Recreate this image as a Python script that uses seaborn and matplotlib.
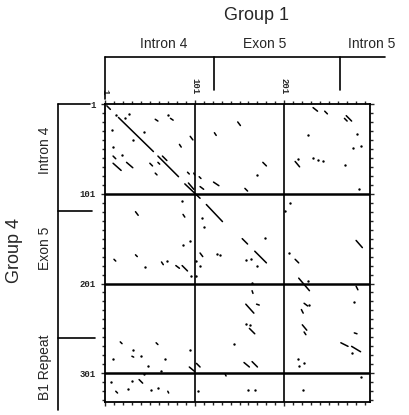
import matplotlib
matplotlib.use("Agg")
import matplotlib.pyplot as plt
import seaborn as sns
import pandas as pd
from matplotlib.lines import Line2D

sns.set_style("white")
plt.rcParams['font.family'] = ['Liberation Sans', 'DejaVu Sans']

# ---- data (sequence positions) ----
seg_x0 = [3, 16, 60, 90, 114, 57, 74, 10, 10, 25, 51, 60, 57, 65, 84, 96, 93, 100, 106, 94, 107, 122, 123, 149,
          233, 246, 270, 268, 177, 213, 157, 35, 88, 11, 35, 64, 80, 87, 107, 154, 168, 213, 217, 165, 281, 281,
          18, 58, 31, 95, 103, 135, 39, 13, 71, 158, 170, 162, 156, 165, 223, 220, 221, 223, 279, 264, 276]
seg_y0 = [3, 16, 59, 90, 113, 18, 17, 59, 67, 66, 67, 66, 78, 59, 46, 37, 77, 78, 82, 89, 93, 88, 33, 21,
          5, 9, 14, 17, 66, 65, 95, 121, 124, 174, 169, 177, 181, 181, 167, 151, 165, 174, 195, 209, 153, 204,
          266, 267, 282, 294, 290, 302, 308, 321, 321, 224, 224, 251, 289, 288, 223, 230, 247, 255, 256, 267, 271]
seg_x1 = [7, 55, 83, 107, 132, 60, 77, 13, 19, 32, 54, 62, 59, 70, 86, 99, 95, 101, 108, 100, 111, 128, 125, 152,
          238, 249, 276, 271, 181, 218, 160, 38, 90, 13, 37, 66, 84, 93, 110, 160, 181, 217, 229, 166, 288, 283,
          20, 60, 33, 101, 107, 136, 43, 15, 72, 167, 173, 168, 162, 171, 227, 222, 226, 225, 282, 272, 286]
seg_y1 = [7, 54, 82, 106, 132, 20, 19, 62, 75, 72, 70, 68, 80, 64, 49, 41, 79, 80, 84, 96, 96, 92, 36, 25,
          9, 12, 20, 20, 70, 71, 98, 125, 127, 176, 171, 180, 184, 187, 171, 157, 178, 178, 209, 212, 161, 208,
          268, 269, 283, 299, 294, 304, 312, 323, 323, 234, 225, 257, 294, 294, 226, 234, 253, 258, 257, 271, 277]

dot_x = [13, 23, 28, 71, 9, 45, 32, 10, 20, 227, 282, 278, 287, 233, 239, 244, 269, 171, 216, 284, 87, 109, 111,
         96, 88, 70, 103, 107, 103, 126, 129, 46, 97, 164, 158, 171, 179, 206, 165, 202, 227, 207, 32, 41, 68,
         49, 10, 64, 96, 145, 27, 52, 8, 31, 60, 45, 105, 158, 163, 160, 168, 216, 217, 223, 222, 229, 276, 279, 286]
dot_y = [13, 17, 12, 13, 30, 32, 41, 49, 58, 36, 34, 50, 48, 61, 63, 64, 69, 80, 62, 96, 109, 128, 138,
         154, 158, 176, 176, 182, 193, 168, 169, 183, 193, 174, 175, 182, 150, 167, 200, 120, 198, 111, 275, 282, 285,
         293, 285, 299, 275, 268, 319, 320, 311, 310, 317, 302, 321, 246, 247, 320, 320, 285, 293, 289, 320, 225, 278, 222, 305]

x_bounds = [101, 201]
y_bounds = [101, 201, 301]
x_ticks = [1, 101, 201]
y_ticks = [1, 101, 201, 301]
x_max, y_max = 296.5, 333

top_title = "Group 1"
left_title = "Group 4"
top_regions = ["Intron 4", "Exon 5", "Intron 5"]
left_regions = ["Intron 4", "Exon 5", "B1 Repeat"]

# ---- figure ----
W, H = 410, 415
fig = plt.figure(figsize=(W / 100, H / 100), dpi=100)
ax = fig.add_axes([105 / W, 1 - 402 / H, 265 / W, 298 / H])

rows = []
for i, (a, b, c, d) in enumerate(zip(seg_x0, seg_y0, seg_x1, seg_y1)):
    rows.append({"seg": i, "x": a, "y": b})
    rows.append({"seg": i, "x": c, "y": d})
seg_df = pd.DataFrame(rows)
dot_df = pd.DataFrame({"x": dot_x, "y": dot_y})

sns.lineplot(data=seg_df, x="x", y="y", units="seg", estimator=None, sort=False,
             color="black", lw=1.1, ax=ax, legend=False)
sns.scatterplot(data=dot_df, x="x", y="y", color="black", s=3, linewidth=0, ax=ax, legend=False)

for xb in x_bounds:
    ax.axvline(xb, color="black", lw=1.2)
for yb in y_bounds:
    ax.axhline(yb, color="black", lw=1.8)

ax.set_xlim(1, x_max)
ax.set_ylim(y_max, 1)
ax.set_xlabel("")
ax.set_ylabel("")
for s in ax.spines.values():
    s.set_linewidth(1.3)
    s.set_color("black")

ax.xaxis.tick_top()
ax.set_xticks(x_ticks)
ax.set_xticklabels([str(t) for t in x_ticks], rotation=-90, family="Liberation Mono",
                   fontsize=6.5, fontweight="bold")
ax.set_yticks(y_ticks)
ax.set_yticklabels([str(t) for t in y_ticks], family="Liberation Mono", fontsize=6.5, fontweight="bold")
ax.set_xticks(range(11, int(x_max), 10), minor=True)
ax.set_yticks(range(11, int(y_max), 10), minor=True)
ax.tick_params(which="major", direction="out", length=3, width=1, pad=4,
               top=True, bottom=True, left=True, right=True, labeltop=True, labelbottom=False)
ax.tick_params(which="minor", direction="out", length=2.5, width=1,
               top=True, bottom=True, left=True, right=True)


def fline(xs, ys, lw=1.2):
    fig.add_artist(Line2D([x / W for x in xs], [1 - y / H for y in ys],
                          color="black", lw=lw, transform=fig.transFigure))


# top bracket
fline([105, 385], [57, 57])
fline([105, 105], [57, 99])
fline([214, 214], [57, 90])
fline([340, 340], [57, 90])
for lab, xc in zip(top_regions, [164, 265, 372]):
    fig.text(xc / W, 1 - 44 / H, lab, ha="center", va="center", fontsize=10)
fig.text(257 / W, 1 - 15 / H, top_title, ha="center", va="center", fontsize=13)

# left bracket
fline([58, 58], [104, 410])
fline([58, 90], [104, 104])
fline([58, 92], [211, 211])
fline([58, 95], [338, 338])
for lab, yc in zip(left_regions, [150, 248, 367]):
    fig.text(45 / W, 1 - yc / H, lab, ha="center", va="center", rotation=90, fontsize=10)
fig.text(15 / W, 1 - 250 / H, left_title, ha="center", va="center", rotation=90, fontsize=13)

fig.savefig("out.png", dpi=100)
